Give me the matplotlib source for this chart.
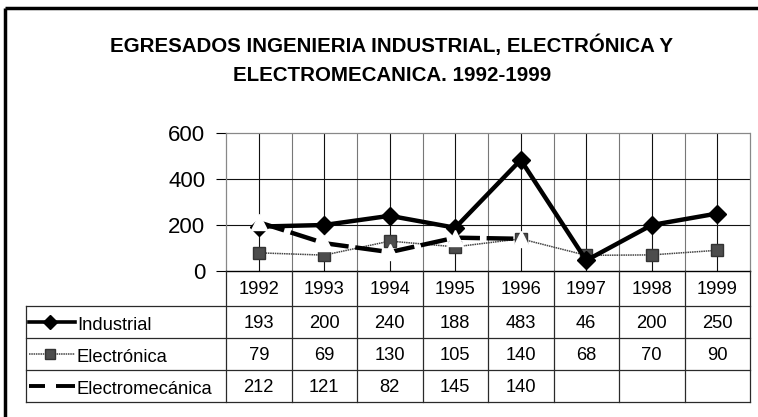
import matplotlib
matplotlib.use("Agg")
import matplotlib.pyplot as plt
import numpy as np

years = ["1992", "1993", "1994", "1995", "1996", "1997", "1998", "1999"]
industrial = [193, 200, 240, 188, 483, 46, 200, 250]
electronica = [79, 69, 130, 105, 140, 68, 70, 90]
electromecanica = [212, 121, 82, 145, 140, None, None, None]
series_names = ["Industrial", "Electrónica", "Electromecánica"]
y_ticks = [0, 200, 400, 600]
title = "EGRESADOS INGENIERIA INDUSTRIAL, ELECTRÓNICA Y\nELECTROMECANICA. 1992-1999"

plt.rcParams["font.family"] = ["Liberation Sans", "DejaVu Sans"]

W, H = 758, 417
fig = plt.figure(figsize=(W / 100, H / 100), dpi=100)

# pixel layout of the plot area
px_left, px_right, px_top, px_bottom = 226, 750, 133, 271

def fx(p):
    return p / W

def fy(p):
    return 1 - p / H

ax = fig.add_axes([fx(px_left), fy(px_bottom), fx(px_right - px_left),
                   (px_bottom - px_top) / H])
n = len(years)
x = np.arange(n) + 0.5
ax.set_xlim(0, n)
ax.set_ylim(0, 600)

# gridlines: at category centers and category boundaries
for b in range(1, n):
    ax.axvline(b, color="#777777", lw=0.8, zorder=1)
for c in x:
    ax.axvline(c, color="#111111", lw=0.8, zorder=1)
for v in y_ticks[1:-1]:
    ax.axhline(v, color="#111111", lw=0.8, zorder=1)

ax.plot(x, industrial, color="black", lw=3.2, marker="D", ms=9,
        markerfacecolor="black", markeredgecolor="black", zorder=4)
ax.plot(x, electronica, color="#444444", lw=1.1, ls=(0, (1, 0.5)), marker="s",
        ms=8, markerfacecolor="#4d4d4d", markeredgecolor="#333333", zorder=3)
em = np.array([np.nan if v is None else v for v in electromecanica], dtype=float)
ax.plot(x, em, color="black", lw=3.2, ls=(0, (6, 1.5)), zorder=3)
ax.plot(x, em, ls="none", marker="^", ms=11, markerfacecolor="white",
        markeredgecolor="white", zorder=5)

ax.set_xticks([])
ax.set_yticks(y_ticks)
ax.set_yticklabels([str(v) for v in y_ticks], fontsize=16)
ax.tick_params(axis="y", direction="out", length=7, width=0.8, pad=8)
for side in ["left", "top", "right"]:
    ax.spines[side].set_color("#888888")
    ax.spines[side].set_linestyle((0, (1, 1)))
    ax.spines[side].set_linewidth(0.9)
ax.spines["bottom"].set_color("black")
ax.spines["bottom"].set_linewidth(1.0)

# overlay in pixel coordinates for the data table, frame and title
ov = fig.add_axes([0, 0, 1, 1], zorder=10)
ov.set_xlim(0, W)
ov.set_ylim(H, 0)
ov.axis("off")
ov.patch.set_alpha(0)

ov.text(392, 60, title, ha="center", va="center", fontsize=14.8,
        fontweight="bold", linespacing=1.65)

# outer frame
ov.plot([5, 5], [8, H], color="black", lw=2.5, solid_capstyle="butt")
ov.plot([5, W], [8, 8], color="black", lw=2.5, solid_capstyle="butt")

col_w = (px_right - px_left) / n
bounds = [px_left + i * col_w for i in range(n + 1)]
row_y = [271, 306, 338, 370, 402]
leg_left = 26
lc = "#2a2a2a"

ov.plot([leg_left, px_right], [row_y[1]] * 2, color=lc, lw=0.9)
for ry in row_y[2:]:
    ov.plot([leg_left, px_right], [ry] * 2, color=lc, lw=0.9)
ov.plot([leg_left, leg_left], [row_y[1], row_y[-1]], color=lc, lw=0.9)
for b in bounds:
    ov.plot([b, b], [row_y[0], row_y[-1]], color=lc, lw=0.9)

fs_table = 13.2
centers = [px_left + (i + 0.5) * col_w for i in range(n)]
for c, yr in zip(centers, years):
    ov.text(c, (row_y[0] + row_y[1]) / 2 + 1, yr, ha="center", va="center",
            fontsize=fs_table)

values = [industrial, electronica, electromecanica]
for r, (name, vals) in enumerate(zip(series_names, values)):
    yc = (row_y[r + 1] + row_y[r + 2]) / 2 + 1
    for c, v in zip(centers, vals):
        if v is not None:
            ov.text(c, yc, str(v), ha="center", va="center", fontsize=fs_table)
    ov.text(77, yc + 2, name, ha="left", va="center", fontsize=fs_table)

# legend keys inside the table
k0, k1, km = 29, 75, 50
ky = [(row_y[i] + row_y[i + 1]) / 2 for i in range(1, 4)]
ov.plot([k0, k1], [ky[0]] * 2, color="black", lw=2.6)
ov.plot([km], [ky[0]], marker="D", ms=7, color="black")
ov.plot([k0, k1], [ky[1]] * 2, color="#444444", lw=1.1, ls=(0, (1, 0.5)))
ov.plot([km], [ky[1]], marker="s", ms=7, markerfacecolor="#4d4d4d",
        markeredgecolor="#333333")
ov.plot([k0, 45], [ky[2]] * 2, color="black", lw=2.8, solid_capstyle="butt")
ov.plot([56, k1], [ky[2]] * 2, color="black", lw=2.8, solid_capstyle="butt")

fig.savefig("out.png", dpi=100)
